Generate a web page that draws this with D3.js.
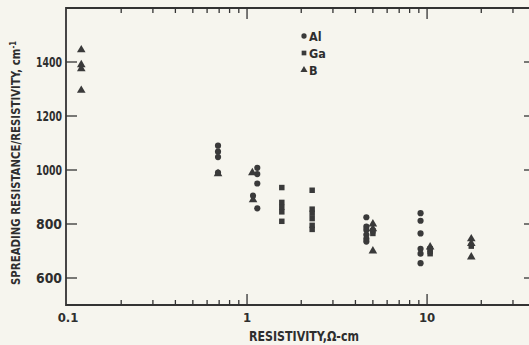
<!DOCTYPE html>
<html><head><meta charset="utf-8">
<script src="https://cdn.jsdelivr.net/npm/d3@7"></script>
<style>
html,body{margin:0;padding:0;background:#f6f5ee;}
svg{display:block;}
text{font-family:"Liberation Sans Narrow","DejaVu Sans Condensed","Arial Narrow",sans-serif;font-weight:bold;fill:#2e2e2e;}
</style></head><body>
<svg id="c" width="529" height="345"></svg>
<script>
// ---- data ----
const alX = [0.69,0.69,0.69,0.69, 1.14,1.14,1.14, 1.08, 1.14, 4.6,4.6,4.6,4.6,4.6,4.6, 9.2,9.2,9.2,9.2,9.2,9.2];
const alY = [1090,1068,1048,990, 1008,985,950, 905, 858, 825,790,778,760,745,735, 840,812,765,708,690,655];
const gaX = [1.56,1.56,1.56,1.56,1.56, 2.3,2.3,2.3,2.3,2.3,2.3, 5.0,5.0, 10.4,10.4,10.4, 17.6];
const gaY = [935,880,862,845,810, 925,855,840,820,795,780, 775,765, 708,698,690, 718];
const bX = [0.12,0.12,0.12,0.12, 0.69, 1.07, 1.08, 5.0,5.0,5.0, 10.4, 17.6,17.6,17.6];
const bY = [1445,1390,1375,1295, 986, 990, 890, 800,782,700, 715, 745,728,678];
const yTicks = [600,800,1000,1200,1400];
const xMajor = [1,10];
const xMinor = [0.2,0.3,0.4,0.5,0.6,0.7,0.8,0.9,2,3,4,5,6,7,8,9,20,30];
const xLabels = ["0.1","1","10"];
const xLabelVals = [0.1,1,10];
const legendNames = ["Al","Ga","B"];

const svg = d3.select("#c");
const L=66, R=530, T=8, B=305;
const x = d3.scaleLog().domain([0.1,37.3]).range([L+1,R]);
const y = d3.scaleLinear().domain([500,1600]).range([B,T]);
const ink = "#333";

// frame
svg.append("path").attr("d",`M${R},${T}H${L}V${B}H${R}`).attr("fill","none").attr("stroke",ink).attr("stroke-width",1.8);

// ticks (inward)
const g = svg.append("g").attr("stroke",ink).attr("stroke-width",1.3);
xMajor.forEach(v=>{
  g.append("line").attr("x1",x(v)).attr("x2",x(v)).attr("y1",B).attr("y2",B-11);
  g.append("line").attr("x1",x(v)).attr("x2",x(v)).attr("y1",T).attr("y2",T+11);
});
xMinor.forEach(v=>{
  g.append("line").attr("x1",x(v)).attr("x2",x(v)).attr("y1",B).attr("y2",B-5);
  g.append("line").attr("x1",x(v)).attr("x2",x(v)).attr("y1",T).attr("y2",T+5);
});
yTicks.forEach(v=>{
  g.append("line").attr("x1",L).attr("x2",L+11).attr("y1",y(v)).attr("y2",y(v));
  g.append("line").attr("x1",R).attr("x2",R-6).attr("y1",y(v)).attr("y2",y(v));
});

// tick labels
xLabelVals.forEach((v,i)=>{
  svg.append("text").attr("x",x(v)+(i===0?1:0)).attr("y",322).attr("text-anchor","middle")
    .attr("font-size",13).text(xLabels[i]);
});
yTicks.forEach(v=>{
  svg.append("text").attr("x",62).attr("y",y(v)+5).attr("text-anchor","end")
    .attr("font-size",13.5).attr("textLength",26).attr("lengthAdjust","spacingAndGlyphs").text(v);
});

// axis titles
svg.append("text").attr("x",304).attr("y",341).attr("text-anchor","middle").attr("font-size",13.5)
  .attr("textLength",110).attr("lengthAdjust","spacingAndGlyphs")
  .text("RESISTIVITY,\u03A9-cm");
svg.append("text").attr("transform","translate(20,163) rotate(-90)").attr("text-anchor","middle")
  .attr("font-size",12).attr("textLength",244).attr("lengthAdjust","spacingAndGlyphs")
  .html('SPREADING RESISTANCE/RESISTIVITY, cm<tspan dy="-4" font-size="8">-1</tspan>');

// marks
const sym = {
  circle: d3.symbol().type(d3.symbolCircle).size(30),
  square: d3.symbol().type(d3.symbolSquare).size(30),
  tri: d3.symbol().type(d3.symbolTriangle).size(32)
};
const mk = "#3a3a3a";
function plot(xs, ys, s){
  svg.append("g").selectAll("path").data(xs.map((d,i)=>[d,ys[i]])).join("path")
    .attr("transform",d=>`translate(${x(d[0])},${y(d[1])})`).attr("d",sym[s]).attr("fill",mk);
}
plot(alX,alY,"circle");
plot(gaX,gaY,"square");
plot(bX,bY,"tri");

// legend
const lg = [["circle",36],["square",53],["tri",70]];
lg.forEach((l,i)=>{
  svg.append("path").attr("transform",`translate(304,${l[1]})`).attr("d",d3.symbol().type(
    l[0]==="circle"?d3.symbolCircle:l[0]==="square"?d3.symbolSquare:d3.symbolTriangle).size(22)).attr("fill",mk);
  svg.append("text").attr("x",309).attr("y",l[1]+5).attr("font-size",12.5).text(legendNames[i]);
});
</script>
</body></html>
